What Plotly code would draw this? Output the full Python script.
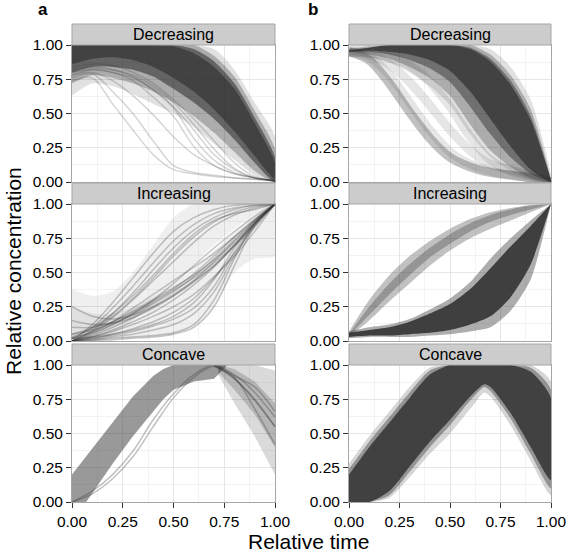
import plotly.graph_objects as go

X11 = [0.0, 0.1, 0.2, 0.3, 0.4, 0.5, 0.6, 0.7, 0.8, 0.9, 1.0]

# ---------------- panel a : Decreasing ----------------
aD_halo_hi = [1, 1, 1, 1, 1, 1, 1, 0.97, 0.82, 0.58, 0.33]
aD_halo_lo = [0.63, 0.72, 0.70, 0.64, 0.57, 0.50, 0.40, 0.28, 0.16, 0.05, 0.0]
aD_mid_hi = [1, 1, 1, 1, 1, 1, 1, 0.92, 0.77, 0.52, 0.24]
aD_mid_lo = [0.72, 0.78, 0.76, 0.72, 0.66, 0.58, 0.48, 0.36, 0.22, 0.08, 0.0]
aD_core_hi = [1, 1, 1, 1, 1, 1, 0.97, 0.88, 0.72, 0.47, 0.18]
aD_core_lo = [0.80, 0.84, 0.84, 0.82, 0.77, 0.68, 0.58, 0.46, 0.31, 0.14, 0.0]
aD_inner_hi = [1, 1, 1, 1, 1, 0.99, 0.94, 0.84, 0.68, 0.43, 0.14]
aD_inner_lo = [0.86, 0.90, 0.91, 0.89, 0.84, 0.76, 0.66, 0.53, 0.37, 0.19, 0.02]
aD_lines = [
    [0.74, 0.76, 0.57, 0.38, 0.20, 0.09, 0.06, 0.04, 0.03, 0.02, 0.01],
    [0.76, 0.79, 0.66, 0.50, 0.30, 0.12, 0.07, 0.05, 0.03, 0.02, 0.01],
    [0.78, 0.80, 0.74, 0.63, 0.49, 0.33, 0.20, 0.12, 0.06, 0.03, 0.01],
    [0.80, 0.82, 0.80, 0.74, 0.62, 0.48, 0.26, 0.12, 0.06, 0.03, 0.01],
    [0.82, 0.84, 0.82, 0.77, 0.67, 0.54, 0.32, 0.16, 0.07, 0.03, 0.01],
    [0.80, 0.83, 0.82, 0.78, 0.70, 0.58, 0.42, 0.24, 0.10, 0.03, 0.01],
    [0.84, 0.86, 0.85, 0.80, 0.72, 0.60, 0.46, 0.30, 0.14, 0.04, 0.01],
    [0.78, 0.82, 0.80, 0.76, 0.68, 0.55, 0.38, 0.20, 0.09, 0.03, 0.01],
]

# ---------------- panel a : Increasing ----------------
aI_halo1_hi = [0.38, 0.33, 0.36, 0.50, 0.70, 0.90, 1.0, 1.0, 1.0, 1.0, 1.0]
aI_halo1_lo = [0.0, 0.0, 0.05, 0.15, 0.28, 0.42, 0.56, 0.70, 0.82, 0.92, 1.0]
aI_halo2_hi = [0.25, 0.20, 0.20, 0.25, 0.32, 0.42, 0.53, 0.66, 0.80, 0.92, 1.0]
aI_halo2_lo = [0.0, 0.0, 0.01, 0.02, 0.03, 0.05, 0.10, 0.25, 0.50, 0.60, 0.62]
aI_lines = [
    [0.00, 0.12, 0.28, 0.46, 0.64, 0.80, 0.90, 0.96, 0.99, 1.0, 1.0],
    [0.02, 0.10, 0.24, 0.40, 0.57, 0.73, 0.85, 0.93, 0.97, 0.99, 1.0],
    [0.00, 0.08, 0.20, 0.35, 0.52, 0.68, 0.81, 0.90, 0.96, 0.99, 1.0],
    [0.03, 0.09, 0.18, 0.31, 0.46, 0.62, 0.76, 0.87, 0.94, 0.98, 1.0],
    [0.00, 0.07, 0.17, 0.30, 0.44, 0.58, 0.72, 0.84, 0.92, 0.97, 1.0],
    [0.05, 0.10, 0.20, 0.33, 0.48, 0.64, 0.78, 0.88, 0.93, 0.96, 1.0],
    [0.00, 0.05, 0.12, 0.20, 0.28, 0.37, 0.46, 0.57, 0.70, 0.85, 1.0],
    [0.02, 0.07, 0.14, 0.22, 0.30, 0.39, 0.48, 0.59, 0.72, 0.86, 1.0],
    [0.00, 0.04, 0.10, 0.17, 0.25, 0.34, 0.44, 0.55, 0.69, 0.84, 1.0],
    [0.05, 0.08, 0.13, 0.19, 0.27, 0.36, 0.47, 0.60, 0.74, 0.88, 1.0],
    [0.00, 0.06, 0.14, 0.24, 0.34, 0.44, 0.54, 0.64, 0.76, 0.88, 1.0],
    [0.10, 0.10, 0.14, 0.21, 0.29, 0.38, 0.49, 0.62, 0.76, 0.89, 1.0],
    [0.00, 0.03, 0.08, 0.14, 0.21, 0.30, 0.41, 0.54, 0.70, 0.86, 1.0],
    [0.02, 0.06, 0.12, 0.20, 0.30, 0.42, 0.55, 0.68, 0.80, 0.91, 1.0],
    [0.25, 0.18, 0.16, 0.19, 0.25, 0.33, 0.43, 0.55, 0.70, 0.86, 1.0],
    [0.15, 0.12, 0.13, 0.17, 0.24, 0.33, 0.44, 0.58, 0.73, 0.87, 1.0],
    [0.00, 0.02, 0.04, 0.07, 0.11, 0.16, 0.24, 0.40, 0.65, 0.86, 1.0],
    [0.00, 0.01, 0.03, 0.05, 0.08, 0.12, 0.20, 0.36, 0.62, 0.85, 1.0],
    [0.00, 0.01, 0.02, 0.03, 0.04, 0.06, 0.12, 0.30, 0.60, 0.86, 1.0],
    [0.02, 0.03, 0.05, 0.08, 0.12, 0.18, 0.28, 0.45, 0.68, 0.88, 1.0],
    [0.00, 0.00, 0.01, 0.02, 0.03, 0.05, 0.10, 0.25, 0.55, 0.84, 1.0],
    [0.00, 0.02, 0.05, 0.09, 0.14, 0.21, 0.31, 0.46, 0.64, 0.83, 1.0],
    [0.00, 0.03, 0.07, 0.12, 0.18, 0.25, 0.34, 0.47, 0.62, 0.80, 1.0],
]

# ---------------- panel a : Concave ----------------
aC_band_x = [0.0, 0.07, 0.1, 0.2, 0.3, 0.4, 0.45, 0.5, 0.6, 0.7, 0.76]
aC_band_hi = [0.20, 0.33, 0.39, 0.58, 0.77, 0.92, 0.97, 1.0, 1.0, 1.0, 1.0]
aC_band_lo = [0.0, 0.0, 0.07, 0.28, 0.48, 0.66, 0.75, 0.82, 0.88, 0.90, 0.99]
aC_right_x = [0.72, 0.8, 0.9, 1.0]
aC_right1_hi = [1.0, 1.0, 1.0, 0.96]
aC_right1_lo = [0.93, 0.72, 0.48, 0.20]
aC_right2_hi = [1.0, 0.97, 0.88, 0.72]
aC_right2_lo = [0.95, 0.82, 0.64, 0.40]
aC_lines = [
    [0.0, 0.08, 0.20, 0.37, 0.60, 0.79, 0.93, 1.0, 0.91, 0.68, 0.42],
    [0.0, 0.06, 0.17, 0.33, 0.55, 0.76, 0.91, 0.99, 0.90, 0.74, 0.55],
]
aC_rlines = [
    [1.0, 0.93, 0.80, 0.62],
    [1.0, 0.90, 0.75, 0.55],
    [0.99, 0.92, 0.84, 0.66],
]
aC_rx = [0.7, 0.8, 0.9, 1.0]

# ---------------- panel b : Decreasing ----------------
bD_halo_hi = [1.0, 1.0, 1.0, 1.0, 1.0, 1.0, 1.0, 0.97, 0.84, 0.60, 0.05]
bD_halo_lo = [0.93, 0.91, 0.87, 0.80, 0.70, 0.56, 0.35, 0.18, 0.08, 0.02, 0.0]
bD_mid_hi = [0.97, 0.99, 1.0, 1.0, 1.0, 1.0, 1.0, 0.93, 0.78, 0.53, 0.02]
bD_mid_lo = [0.95, 0.93, 0.90, 0.84, 0.76, 0.63, 0.42, 0.23, 0.11, 0.03, 0.0]
bD_core_hi = [0.96, 0.98, 1.0, 1.0, 1.0, 1.0, 0.98, 0.90, 0.74, 0.48, 0.01]
bD_core_lo = [0.95, 0.95, 0.93, 0.89, 0.83, 0.73, 0.55, 0.35, 0.18, 0.06, 0.0]
bD_inner_hi = [0.96, 0.98, 1.0, 1.0, 1.0, 1.0, 0.97, 0.88, 0.71, 0.45, 0.01]
bD_inner_lo = [0.95, 0.96, 0.95, 0.93, 0.89, 0.81, 0.66, 0.46, 0.26, 0.09, 0.0]
bD_band_main = [0.95, 0.89, 0.72, 0.51, 0.32, 0.18, 0.11, 0.07, 0.05, 0.03, 0.0]
bD_bands = [
    [0.95, 0.93, 0.86, 0.73, 0.56, 0.38, 0.23, 0.13, 0.09, 0.05, 0.0],
    [0.95, 0.94, 0.91, 0.85, 0.73, 0.55, 0.33, 0.16, 0.08, 0.04, 0.0],
    [0.95, 0.91, 0.78, 0.58, 0.38, 0.22, 0.13, 0.08, 0.05, 0.03, 0.0],
]

# ---------------- panel b : Increasing ----------------
bI_up_hi = [0.07, 0.30, 0.48, 0.62, 0.73, 0.82, 0.89, 0.94, 0.97, 0.99, 1.0]
bI_up_lo = [0.03, 0.15, 0.29, 0.42, 0.55, 0.66, 0.75, 0.82, 0.88, 0.94, 1.0]
bI_upc_hi = [0.05, 0.25, 0.42, 0.56, 0.68, 0.78, 0.86, 0.92, 0.96, 0.99, 1.0]
bI_upc_lo = [0.04, 0.19, 0.34, 0.48, 0.61, 0.71, 0.80, 0.87, 0.92, 0.96, 1.0]
bI_lo_hi = [0.07, 0.10, 0.12, 0.16, 0.23, 0.31, 0.43, 0.60, 0.75, 0.88, 1.0]
bI_lo_lo = [0.02, 0.03, 0.03, 0.03, 0.04, 0.05, 0.07, 0.10, 0.22, 0.45, 1.0]
bI_loc_hi = [0.06, 0.08, 0.10, 0.14, 0.20, 0.27, 0.38, 0.53, 0.69, 0.84, 1.0]
bI_loc_lo = [0.03, 0.04, 0.04, 0.05, 0.06, 0.08, 0.12, 0.18, 0.32, 0.56, 1.0]

# ---------------- panel b : Concave ----------------
bC_x = [0.0, 0.1, 0.2, 0.3, 0.4, 0.5, 0.6, 0.67, 0.7, 0.8, 0.9, 1.0]
bC_halo_hi = [0.28, 0.48, 0.66, 0.84, 0.98, 1.0, 1.0, 1.0, 1.0, 1.0, 1.0, 0.88]
bC_halo_lo = [0.0, 0.0, 0.03, 0.18, 0.35, 0.50, 0.68, 0.80, 0.77, 0.56, 0.30, 0.05]
bC_mid_hi = [0.24, 0.44, 0.62, 0.80, 0.96, 1.0, 1.0, 1.0, 1.0, 1.0, 0.98, 0.82]
bC_mid_lo = [0.0, 0.0, 0.05, 0.22, 0.40, 0.56, 0.74, 0.84, 0.81, 0.61, 0.35, 0.10]
bC_core_hi = [0.20, 0.40, 0.58, 0.76, 0.93, 1.0, 1.0, 1.0, 1.0, 1.0, 0.95, 0.76]
bC_core_lo = [0.0, 0.0, 0.08, 0.26, 0.44, 0.60, 0.77, 0.86, 0.84, 0.65, 0.40, 0.16]

DARK = "51,51,51"


def rgba(a, base=DARK):
    return f"rgba({base},{a})"


fig = go.Figure()


def ribbon(x, lo, hi, alpha, ax, shape="spline"):
    fig.add_trace(go.Scatter(
        x=list(x) + list(x)[::-1], y=list(hi) + list(lo)[::-1],
        fill="toself", fillcolor=rgba(alpha), mode="lines",
        line=dict(width=0, shape=shape, smoothing=0.7),
        hoverinfo="skip", showlegend=False, xaxis=f"x{ax}", yaxis=f"y{ax}"))


def line(x, y, alpha, width, ax):
    fig.add_trace(go.Scatter(
        x=x, y=y, mode="lines",
        line=dict(color=rgba(alpha), width=width, shape="spline", smoothing=0.9),
        hoverinfo="skip", showlegend=False, xaxis=f"x{ax}", yaxis=f"y{ax}"))


# a Decreasing -> axis 1
ribbon(X11, aD_halo_lo, aD_halo_hi, 0.15, 1)
for l in aD_lines:
    line(X11, l, 0.2, 1.5, 1)
ribbon(X11, aD_mid_lo, aD_mid_hi, 0.3, 1)
ribbon(X11, aD_core_lo, aD_core_hi, 0.6, 1)
ribbon(X11, aD_inner_lo, aD_inner_hi, 0.7, 1)

# b Decreasing -> axis 2
line(X11, bD_band_main, 0.3, 9, 2)
for b in bD_bands:
    line(X11, b, 0.12, 9, 2)
ribbon(X11, bD_halo_lo, bD_halo_hi, 0.15, 2)
ribbon(X11, bD_mid_lo, bD_mid_hi, 0.3, 2)
ribbon(X11, bD_core_lo, bD_core_hi, 0.5, 2)
ribbon(X11, bD_inner_lo, bD_inner_hi, 0.75, 2)

# a Increasing -> axis 3
ribbon(X11, aI_halo1_lo, aI_halo1_hi, 0.08, 3)
ribbon(X11, aI_halo2_lo, aI_halo2_hi, 0.08, 3)
for l in aI_lines:
    line(X11, l, 0.27, 1.5, 3)

# b Increasing -> axis 4
ribbon(X11, bI_up_lo, bI_up_hi, 0.3, 4)
ribbon(X11, bI_upc_lo, bI_upc_hi, 0.3, 4)
ribbon(X11, bI_lo_lo, bI_lo_hi, 0.4, 4)
ribbon(X11, bI_loc_lo, bI_loc_hi, 0.9, 4)

# a Concave -> axis 5
ribbon(aC_band_x, aC_band_lo, aC_band_hi, 0.5, 5, shape="linear")
ribbon(aC_right_x, aC_right1_lo, aC_right1_hi, 0.18, 5, shape="linear")
ribbon(aC_right_x, aC_right2_lo, aC_right2_hi, 0.22, 5, shape="linear")
for l in aC_lines:
    line(X11, l, 0.3, 1.5, 5)
for l in aC_rlines:
    line(aC_rx, l, 0.3, 1.5, 5)

# b Concave -> axis 6
ribbon(bC_x, bC_halo_lo, bC_halo_hi, 0.2, 6)
ribbon(bC_x, bC_mid_lo, bC_mid_hi, 0.4, 6)
ribbon(bC_x, bC_core_lo, bC_core_hi, 0.85, 6)

FONT = "Liberation Sans, Arial, Helvetica, sans-serif"
W, H = 567, 552
xdom = {1: [72 / W, 275 / W], 2: [349 / W, 551 / W]}
ydom = {1: [1 - 182 / H, 1 - 45 / H], 2: [1 - 341 / H, 1 - 204 / H], 3: [1 - 502 / H, 1 - 365 / H]}
strip_px = {1: (24, 45), 2: (183, 204), 3: (344, 365)}
strip_names = {1: "Decreasing", 2: "Increasing", 3: "Concave"}

tickvals = [0, 0.25, 0.5, 0.75, 1.0]
ticktext = ["0.00", "0.25", "0.50", "0.75", "1.00"]

layout = dict(width=W, height=H, margin=dict(l=0, r=0, t=0, b=0, pad=0, autoexpand=False),
              paper_bgcolor="white", plot_bgcolor="white", showlegend=False,
              font=dict(family=FONT, color="black"))
shapes = []
annotations = []
for row in (1, 2, 3):
    for col in (1, 2):
        ax = (row - 1) * 2 + col
        common = dict(range=[0, 1], showline=True, mirror=True, linecolor="#a6a6a6", linewidth=1,
                      showgrid=True, gridcolor="#e6e6e6", gridwidth=1, zeroline=False,
                      tickvals=tickvals, ticktext=ticktext, automargin=False,
                      minor=dict(tickvals=[0.125, 0.375, 0.625, 0.875], showgrid=True,
                                 gridcolor="#f3f3f3", gridwidth=1, ticks=""),
                      tickfont=dict(family=FONT, size=15.5, color="black"),
                      ticks="outside", ticklen=5, tickcolor="#333333", tickwidth=1, fixedrange=True)
        xa = dict(common, domain=xdom[col], anchor=f"y{ax}")
        if row != 3:
            xa.update(showticklabels=False, ticks="")
        ya = dict(common, domain=ydom[row], anchor=f"x{ax}")
        layout["xaxis" if ax == 1 else f"xaxis{ax}"] = xa
        layout["yaxis" if ax == 1 else f"yaxis{ax}"] = ya
        t, b = strip_px[row]
        shapes.append(dict(type="rect", xref="paper", yref="paper",
                           x0=xdom[col][0], x1=xdom[col][1], y0=1 - b / H, y1=1 - t / H,
                           fillcolor="#cccccc", line=dict(color="#a6a6a6", width=1), layer="above"))
        annotations.append(dict(text=strip_names[row], xref="paper", yref="paper",
                                x=(xdom[col][0] + xdom[col][1]) / 2, y=1 - (t + b) / 2 / H,
                                showarrow=False, xanchor="center", yanchor="middle",
                                font=dict(family=FONT, size=16, color="black")))

annotations += [
    dict(text="<b>a</b>", xref="paper", yref="paper", x=43 / W, y=1 - 10 / H, showarrow=False,
         xanchor="center", yanchor="middle", font=dict(family=FONT, size=17, color="black")),
    dict(text="<b>b</b>", xref="paper", yref="paper", x=313 / W, y=1 - 10 / H, showarrow=False,
         xanchor="center", yanchor="middle", font=dict(family=FONT, size=17, color="black")),
    dict(text="Relative time", xref="paper", yref="paper", x=308 / W, y=1 - 541 / H, showarrow=False,
         xanchor="center", yanchor="middle", font=dict(family=FONT, size=21, color="black")),
    dict(text="Relative concentration", xref="paper", yref="paper", x=13 / W, y=1 - 271 / H,
         showarrow=False, textangle=-90, xanchor="center", yanchor="middle",
         font=dict(family=FONT, size=21, color="black")),
]
layout["shapes"] = shapes
layout["annotations"] = annotations
fig.update_layout(**layout)
fig.write_html("out.html", config={"displayModeBar": False},
               post_script="document.body.style.margin='0';document.body.style.overflow='hidden';")
